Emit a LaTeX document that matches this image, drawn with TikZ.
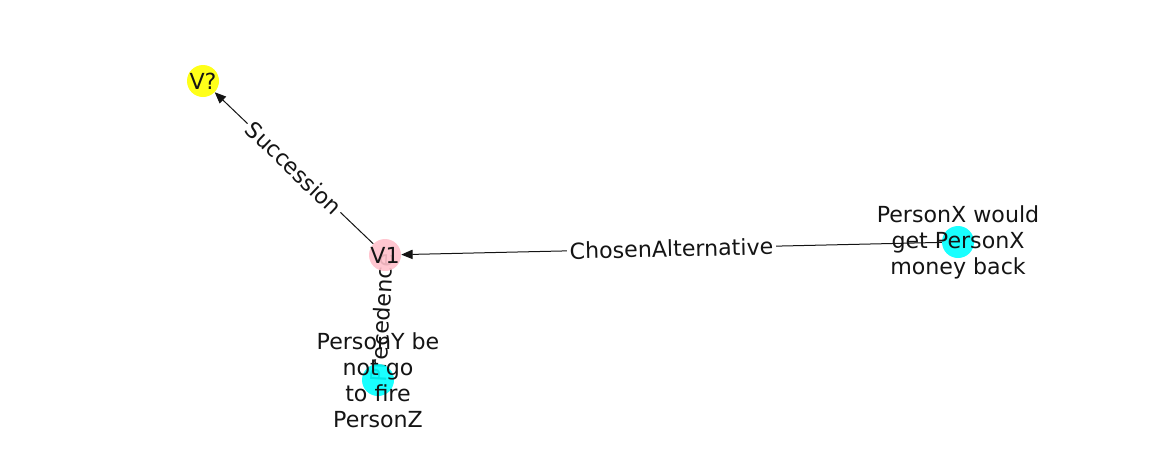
\documentclass[tikz,border=0pt]{standalone}
\usepackage{fontspec}
\setmainfont{DejaVu Sans}
\usetikzlibrary{arrows.meta}
\definecolor{nyellow}{RGB}{255,255,0}
\definecolor{npink}{RGB}{255,192,203}
\definecolor{ncyan}{RGB}{0,255,255}
\definecolor{ntext}{RGB}{20,20,20}
\tikzset{
  vert/.style={circle, minimum size=24pt, inner sep=0pt, draw=none, fill opacity=0.9},
  vtext/.style={align=center, text=ntext, font=\fontsize{16.6pt}{19.5pt}\selectfont, inner sep=0pt},
  rel/.style={draw=ntext, line width=0.75pt, -{Triangle[length=8.5pt,width=7pt]}},
  rellabel/.style={fill=white, text=ntext, font=\fontsize{16.6pt}{19.5pt}\selectfont, inner sep=2pt, sloped, pos=0.5}
}
\begin{document}
\begin{tikzpicture}[x=0.75pt,y=-0.75pt]
\useasboundingbox (0,0) rectangle (1162,462);
% vertex positions
\coordinate (cq) at (203,81);
\coordinate (c1) at (385,255);
\coordinate (cx) at (958,242);
\coordinate (cy) at (378,380);
% vertices (shapes only, used as edge ends)
\path (cq) node[vert] (vq) {};
\path (c1) node[vert] (v1) {};
\path (cx) node[vert] (px) {};
\path (cy) node[vert] (py) {};
% edges
\draw[rel] (v1) -- node[rellabel] (lsucc) {Succession} (vq);
\draw[rel] (px) -- node[rellabel] (lchosen) {ChosenAlternative} (v1);
\draw[rel] (py) -- node[rellabel] (lprec) {Precedence} (v1);
% vertex discs drawn above the edge labels
\fill[nyellow, opacity=0.9] (vq.center) circle (12pt);
\fill[npink, opacity=0.9] (v1.center) circle (12pt);
\fill[ncyan, opacity=0.9] (px.center) circle (12pt);
\fill[ncyan, opacity=0.9] (py.center) circle (12pt);
% vertex labels
\node[vtext] (tvq) at (vq.center) {V?};
\node[vtext] (tv1) at (v1.center) {V1};
\node[vtext] (tpx) at (px.center) {PersonX would\\get PersonX\\money back};
\node[vtext] (tpy) at (py.center) {PersonY be\\not go\\to fire\\PersonZ};
\end{tikzpicture}
\end{document}
